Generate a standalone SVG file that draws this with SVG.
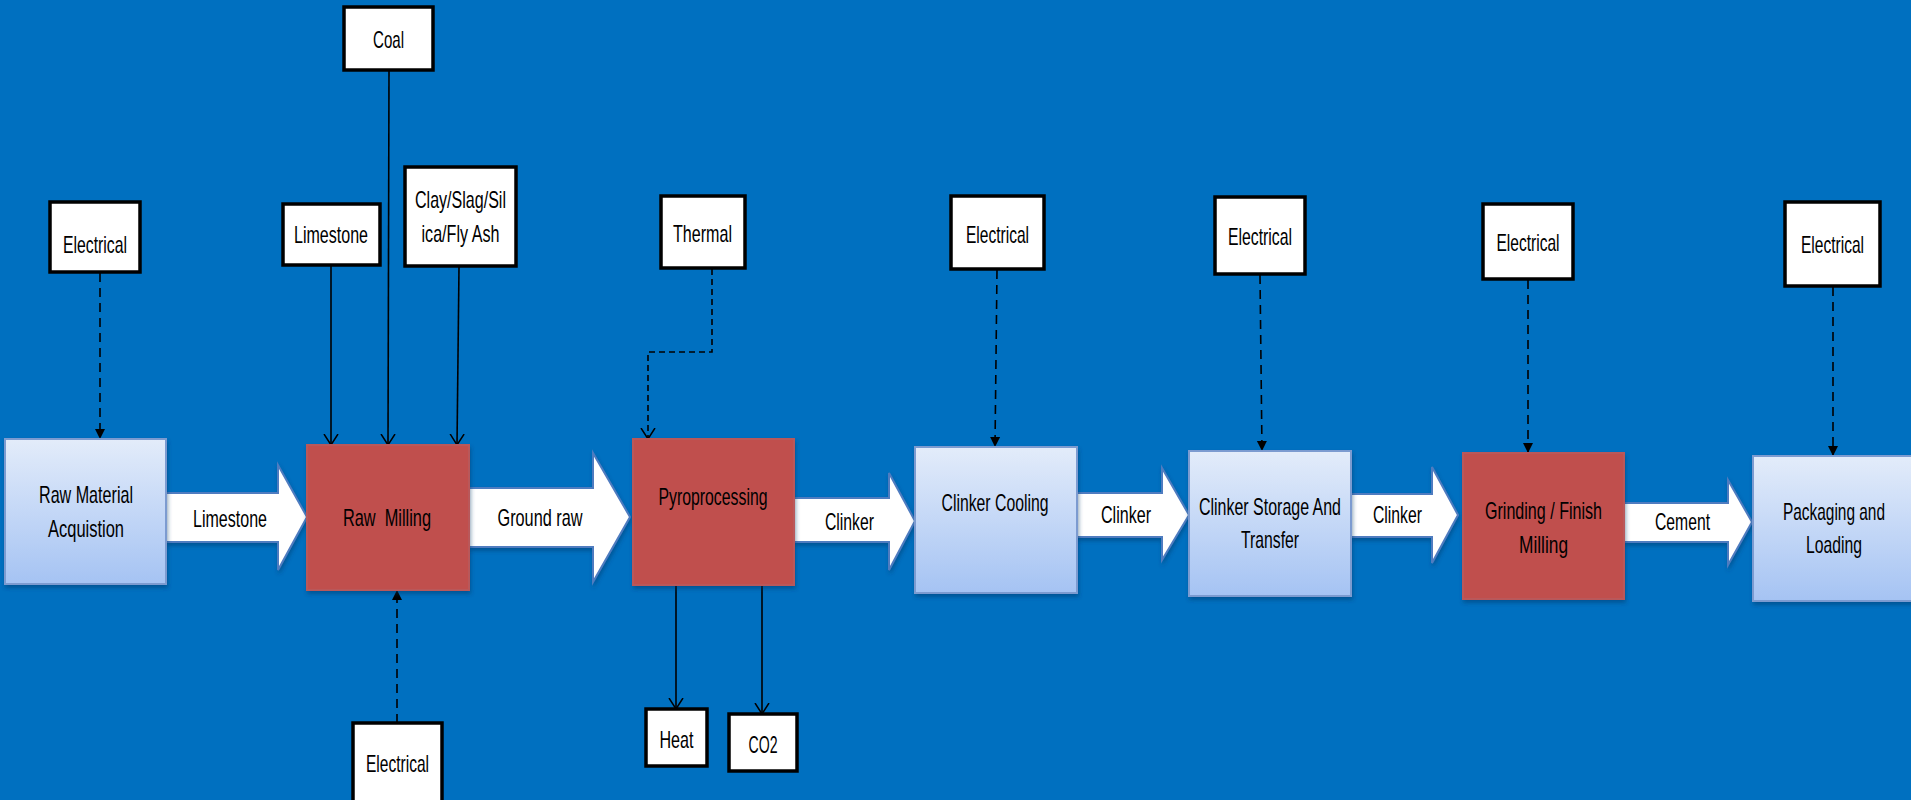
<svg xmlns="http://www.w3.org/2000/svg" width="1911" height="800" viewBox="0 0 1911 800">
<defs>
<linearGradient id="lb" x1="0" y1="0" x2="0" y2="1">
<stop offset="0" stop-color="#E3ECFA"/>
<stop offset="1" stop-color="#A5C3F3"/>
</linearGradient>
<marker id="fa" viewBox="0 0 10 12" refX="10" refY="6" markerWidth="10" markerHeight="12" markerUnits="userSpaceOnUse" orient="auto">
<path d="M0,1 L10,6 L0,11 z" fill="#000"/>
</marker>
<marker id="oa" viewBox="0 0 12 16" refX="11" refY="8" markerWidth="12" markerHeight="16" markerUnits="userSpaceOnUse" orient="auto">
<path d="M0,1 L11,8 L0,15" fill="none" stroke="#000" stroke-width="1.5"/>
</marker>
<filter id="sh" x="-10%" y="-10%" width="130%" height="130%">
<feDropShadow dx="1" dy="3" stdDeviation="2" flood-color="#003060" flood-opacity="0.45"/>
</filter>
</defs>
<style>
text{font-family:"Liberation Sans",Arial,sans-serif;font-size:24px;fill:#000;text-anchor:middle}
.proc{fill:url(#lb);stroke:#7C9BD0;stroke-width:2}
.red{fill:#C0504D;stroke:#B9585A;stroke-width:2}
.inp{fill:#fff;stroke:#000;stroke-width:3.5}
.blk{fill:#fff;stroke:#4F7CC0;stroke-width:2}
.ln{fill:none;stroke:#000;stroke-width:1.6}
.ds{stroke-dasharray:9 6}
.dt{stroke-dasharray:6 4}
</style>
<rect width="1911" height="800" fill="#0070C0"/>

<g id="connectors">
<path class="ln ds" d="M100,273 L100,439" marker-end="url(#fa)"/>
<path class="ln" d="M331,266 L331,445" marker-end="url(#oa)"/>
<path class="ln" d="M389,71 L388,445" marker-end="url(#oa)"/>
<path class="ln" d="M459,267 L457,445" marker-end="url(#oa)"/>
<path class="ln ds" d="M397,723 L397,590" marker-end="url(#fa)"/>
<path class="ln dt" d="M712,269 L712,352 L648,352 L648,439" marker-end="url(#oa)"/>
<path class="ln" d="M676,586 L676,709" marker-end="url(#oa)"/>
<path class="ln" d="M762,586 L762,714" marker-end="url(#oa)"/>
<path class="ln ds" d="M997,270 L995,447" marker-end="url(#fa)"/>
<path class="ln ds" d="M1260,275 L1262,451" marker-end="url(#fa)"/>
<path class="ln ds" d="M1528,280 L1528,453" marker-end="url(#fa)"/>
<path class="ln ds" d="M1833,287 L1833,456" marker-end="url(#fa)"/>
</g>

<g id="arrow-limestone">
<polygon class="blk" filter="url(#sh)" points="166,493 278,493 278,465 307,517 278,570 278,542 166,542"/>
<text x="230" y="527" textLength="74" lengthAdjust="spacingAndGlyphs">Limestone</text>
</g>
<g id="arrow-groundraw">
<polygon class="blk" filter="url(#sh)" points="469,488 593,488 593,453 630,517 593,582 593,547 469,547"/>
<text x="540" y="526" textLength="85" lengthAdjust="spacingAndGlyphs">Ground raw</text>
</g>
<g id="arrow-clinker1">
<polygon class="blk" filter="url(#sh)" points="794,498 889,498 889,473 915,521 889,570 889,542 794,542"/>
<text x="849.5" y="530" textLength="49" lengthAdjust="spacingAndGlyphs">Clinker</text>
</g>
<g id="arrow-clinker2">
<polygon class="blk" filter="url(#sh)" points="1077,493 1162,493 1162,468 1189,515 1162,560 1162,537 1077,537"/>
<text x="1126" y="523" textLength="50" lengthAdjust="spacingAndGlyphs">Clinker</text>
</g>
<g id="arrow-clinker3">
<polygon class="blk" filter="url(#sh)" points="1351,494 1432,494 1432,467 1458,515 1432,563 1432,537 1351,537"/>
<text x="1397.5" y="523" textLength="49" lengthAdjust="spacingAndGlyphs">Clinker</text>
</g>
<g id="arrow-cement">
<polygon class="blk" filter="url(#sh)" points="1624,503 1728,503 1728,480 1752,522 1728,565 1728,542 1624,542"/>
<text x="1682.5" y="530" textLength="55" lengthAdjust="spacingAndGlyphs">Cement</text>
</g>

<g id="raw-material">
<rect class="proc" filter="url(#sh)" x="5" y="439" width="161" height="145"/>
<text x="86" y="503" textLength="94" lengthAdjust="spacingAndGlyphs">Raw Material</text>
<text x="86" y="537" textLength="76" lengthAdjust="spacingAndGlyphs">Acquistion</text>
</g>
<g id="raw-milling">
<rect class="red" filter="url(#sh)" x="307" y="445" width="162" height="145"/>
<text x="387" y="526" textLength="88" lengthAdjust="spacingAndGlyphs" xml:space="preserve">Raw  Milling</text>
</g>
<g id="pyroprocessing">
<rect class="red" filter="url(#sh)" x="633" y="439" width="161" height="146"/>
<text x="713" y="505" textLength="109" lengthAdjust="spacingAndGlyphs">Pyroprocessing</text>
</g>
<g id="clinker-cooling">
<rect class="proc" filter="url(#sh)" x="915" y="447" width="162" height="146"/>
<text x="995" y="511" textLength="107" lengthAdjust="spacingAndGlyphs">Clinker Cooling</text>
</g>
<g id="clinker-storage">
<rect class="proc" filter="url(#sh)" x="1189" y="451" width="162" height="145"/>
<text x="1270" y="515" textLength="142" lengthAdjust="spacingAndGlyphs">Clinker Storage And</text>
<text x="1270" y="548" textLength="58" lengthAdjust="spacingAndGlyphs">Transfer</text>
</g>
<g id="grinding">
<rect class="red" filter="url(#sh)" x="1463" y="453" width="161" height="146"/>
<text x="1543.5" y="519" textLength="117" lengthAdjust="spacingAndGlyphs">Grinding / Finish</text>
<text x="1543.5" y="553" textLength="49" lengthAdjust="spacingAndGlyphs">Milling</text>
</g>
<g id="packaging">
<rect class="proc" filter="url(#sh)" x="1753" y="456" width="165" height="145"/>
<text x="1834" y="520" textLength="102" lengthAdjust="spacingAndGlyphs">Packaging and</text>
<text x="1834" y="553" textLength="56" lengthAdjust="spacingAndGlyphs">Loading</text>
</g>

<g id="elec-1">
<rect class="inp" x="50" y="202" width="90" height="70"/>
<text x="95" y="253" textLength="64" lengthAdjust="spacingAndGlyphs">Electrical</text>
</g>
<g id="limestone-in">
<rect class="inp" x="283" y="204" width="97" height="61"/>
<text x="331" y="243" textLength="74" lengthAdjust="spacingAndGlyphs">Limestone</text>
</g>
<g id="coal">
<rect class="inp" x="344" y="7" width="89" height="63"/>
<text x="388.5" y="48" textLength="31" lengthAdjust="spacingAndGlyphs">Coal</text>
</g>
<g id="clay">
<rect class="inp" x="405" y="167" width="111" height="99"/>
<text x="460.5" y="208" textLength="91" lengthAdjust="spacingAndGlyphs">Clay/Slag/Sil</text>
<text x="460.5" y="242" textLength="78" lengthAdjust="spacingAndGlyphs">ica/Fly Ash</text>
</g>
<g id="thermal">
<rect class="inp" x="661" y="196" width="84" height="72"/>
<text x="702.5" y="242" textLength="59" lengthAdjust="spacingAndGlyphs">Thermal</text>
</g>
<g id="elec-cooling">
<rect class="inp" x="951" y="196" width="93" height="73"/>
<text x="997.5" y="243" textLength="63" lengthAdjust="spacingAndGlyphs">Electrical</text>
</g>
<g id="elec-storage">
<rect class="inp" x="1215" y="197" width="90" height="77"/>
<text x="1260" y="245" textLength="64" lengthAdjust="spacingAndGlyphs">Electrical</text>
</g>
<g id="elec-grinding">
<rect class="inp" x="1483" y="204" width="90" height="75"/>
<text x="1528" y="251" textLength="63" lengthAdjust="spacingAndGlyphs">Electrical</text>
</g>
<g id="elec-packaging">
<rect class="inp" x="1785" y="202" width="95" height="84"/>
<text x="1832.5" y="253" textLength="63" lengthAdjust="spacingAndGlyphs">Electrical</text>
</g>
<g id="elec-bottom">
<rect class="inp" x="353" y="723" width="89" height="90"/>
<text x="397.5" y="772" textLength="63" lengthAdjust="spacingAndGlyphs">Electrical</text>
</g>
<g id="heat">
<rect class="inp" x="646" y="709" width="61" height="57"/>
<text x="676.5" y="748" textLength="34" lengthAdjust="spacingAndGlyphs">Heat</text>
</g>
<g id="co2">
<rect class="inp" x="729" y="714" width="68" height="57"/>
<text x="763" y="753" textLength="29" lengthAdjust="spacingAndGlyphs">CO2</text>
</g>
</svg>
